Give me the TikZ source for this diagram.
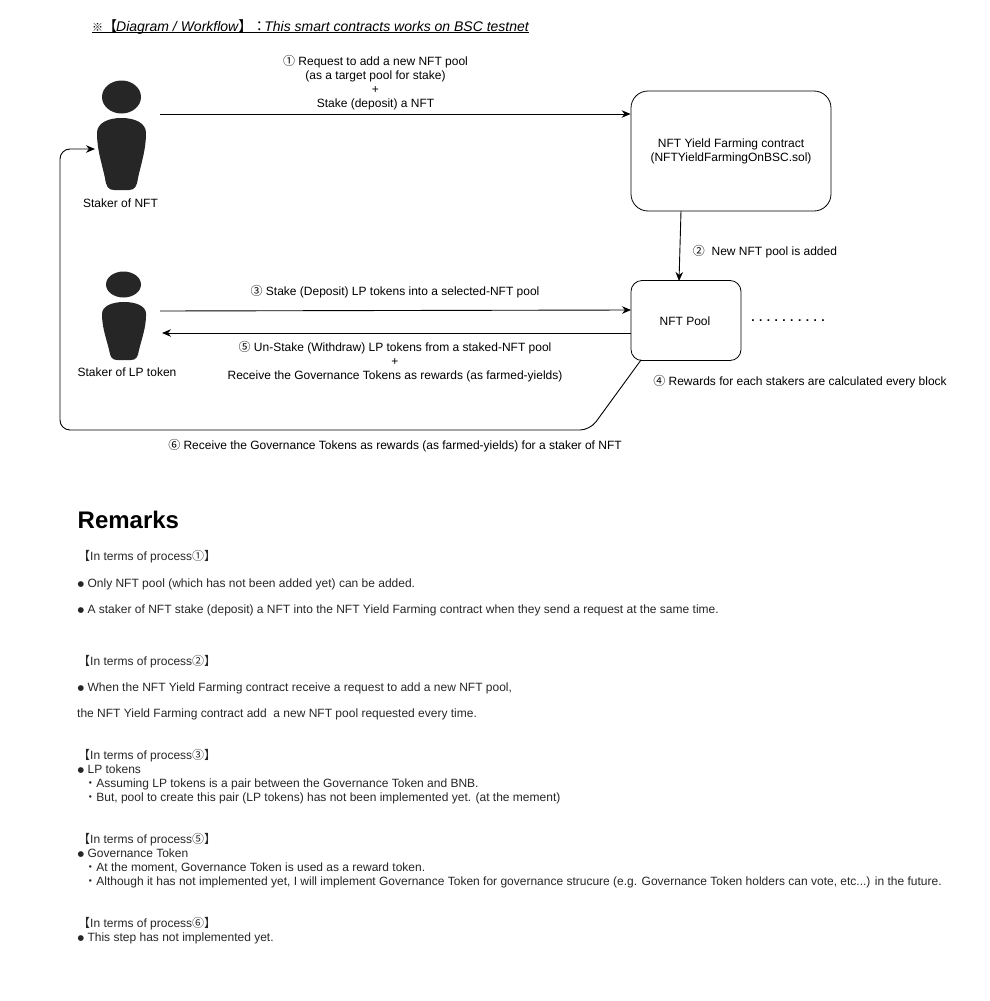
\documentclass[tikz,border=0pt]{standalone}
\usepackage{fontspec}
\setmainfont{Liberation Sans}
\newfontfamily\cjk{Noto Sans CJK JP}
\newfontfamily\symfont{DejaVu Sans}
\usetikzlibrary{arrows.meta,shapes.geometric}
\newcommand{\cn}[1]{{\cjk #1}}
\newcommand{\bul}{\raisebox{0.8pt}{\symfont\fontsize{7.5}{14}\selectfont ●}}
\tikzset{
  lbl/.style={inner sep=0pt,yshift=-0.8pt,align=center,font=\fontsize{12}{14}\selectfont},
  rem/.style={inner sep=0pt,yshift=-4.5pt,anchor=base west,font=\fontsize{12}{14}\selectfont,text=black!85},
  box/.style={draw,line width=0.8pt,inner sep=0pt},
  head/.style={ellipse,fill=black!85,inner sep=0pt},
  flow/.style={line width=0.9pt,-{Stealth[length=9pt,width=7.5pt]}}
}
% body of a person, 49 wide and 72 high before scaling
\newcommand{\personbody}{
  (24.5,0) .. controls (38,0) and (49,5) .. (49,15)
  .. controls (49,32) and (44,46) .. (41,60)
  .. controls (40,68) and (38,72) .. (32,72) -- (17,72)
  .. controls (11,72) and (9,68) .. (8,60)
  .. controls (5,46) and (0,32) .. (0,15)
  .. controls (0,5) and (11,0) .. (24.5,0) -- cycle}
\begin{document}
\begin{tikzpicture}[x=1pt,y=-1pt]
  \useasboundingbox (0,0) rectangle (990,1001);
  \node[inner sep=0pt,anchor=base west,font=\fontsize{14}{16}\selectfont\itshape] (title) at (92,31)
    {\underline{\smash{{\cjk\fontsize{11}{16}\selectfont ※}\cn{【}\kern-1pt Diagram / Workflow\cn{】：}\kern-2pt This smart contracts works on BSC testnet}}};

  % people
  \node[head,minimum width=39pt,minimum height=33pt] (headNFT) at (121.5,97) {};
  \fill[black!85,shift={(97,118)}] \personbody;
  \node[lbl] (stakerNFT) at (120.5,202) {Staker of NFT};
  \node[head,minimum width=35pt,minimum height=26pt] (headLP) at (123.5,284.5) {};
  \fill[black!85,shift={(102,302)},xscale=0.9,yscale=0.806] \personbody;
  \node[lbl] (stakerLP) at (127,371) {Staker of LP token};

  % contract and pool
  \node[box,rounded corners=17pt,minimum width=200pt,minimum height=120pt] (contract) at (731,151) {};
  \node[lbl] (contractname) at (731,151) {NFT Yield Farming contract\\(NFTYieldFarmingOnBSC.sol)};
  \node[box,rounded corners=11pt,minimum width=110pt,minimum height=80pt] (pool) at (686,320.5) {};
  \node[lbl] (poolname) at (685,320) {NFT Pool};
  \node[lbl,font=\fontsize{12}{14}\selectfont\bfseries] (dots) at (788,320) {. . . . . . . . . .};

  % free ends of the connectors
  \coordinate (nftout) at (160,114);
  \coordinate (contractin) at (contract.west |- nftout);
  \coordinate (contractout) at (681,211);
  \coordinate (poolin) at (679,281);
  \coordinate (lpout) at (160,311);
  \coordinate (poolleft) at (631,310);
  \coordinate (poolback) at (631,333);
  \coordinate (lpin) at (162,333);
  \coordinate (poolcorner) at (641,360);
  \coordinate (nftin) at (95,149);

  \draw[flow] (nftout) to (contractin);
  \draw[flow] (contractout) to (poolin);
  \draw[flow] (lpout) to (poolleft);
  \draw[flow] (poolback) to (lpin);
  \draw[flow,rounded corners=10pt] (poolcorner) -- (590,430) -- (60,430) -- (60,149) -- (nftin);

  % labels of the connectors
  \node[lbl] (stepone) at (375.5,82) {\cn{①} Request to add a new NFT pool\\(as a target pool for stake)\\+\\Stake (deposit) a NFT};
  \node[lbl] (steptwo) at (765,251) {\cn{②} \ New NFT pool is added};
  \node[lbl] (stepthree) at (395,291) {\cn{③} Stake (Deposit) LP tokens into a selected-NFT pool};
  \node[lbl] (stepfive) at (395,361) {\cn{⑤} Un-Stake (Withdraw) LP tokens from a staked-NFT pool\\+\\Receive the Governance Tokens as rewards (as farmed-yields)};
  \node[lbl] (stepfour) at (800,381) {\cn{④} Rewards for each stakers are calculated every block};
  \node[lbl] (stepsix) at (395,445) {\cn{⑥} Receive the Governance Tokens as rewards (as farmed-yields) for a staker of NFT};

  % remarks
  \node[inner sep=0pt,anchor=west,font=\fontsize{24}{28}\selectfont\bfseries] (remarks) at (77.5,520) {Remarks};
  \node[rem] (procone) at (78,556) {\cn{【}In terms of process\cn{①】}};
  \node[rem] (oneA) at (77.5,583) {\bul\ Only NFT pool (which has not been added yet) can be added.};
  \node[rem] (oneB) at (77.5,609) {\bul\ A staker of NFT stake (deposit) a NFT into the NFT Yield Farming contract when they send a request at the same time.};
  \node[rem] (proctwo) at (78,661) {\cn{【}In terms of process\cn{②】}};
  \node[rem] (twoA) at (77.5,687) {\bul\ When the NFT Yield Farming contract receive a request to add a new NFT pool,};
  \node[rem] (twoB) at (77,713) {the NFT Yield Farming contract add \ a new NFT pool requested every time.};
  \node[rem] (procthree) at (78,755) {\cn{【}In terms of process\cn{③】}};
  \node[rem] (threeA) at (77.5,769) {\bul\ LP tokens};
  \node[rem] (threeB) at (77.5,783) {\ \ \cn{・}Assuming LP tokens is a pair between the Governance Token and BNB.};
  \node[rem] (threeC) at (77.5,797) {\ \ \cn{・}But, pool to create this pair (LP tokens) has not been implemented yet. (at the mement)};
  \node[rem] (procfive) at (78,839) {\cn{【}In terms of process\cn{⑤】}};
  \node[rem] (fiveA) at (77.5,853) {\bul\ Governance Token};
  \node[rem] (fiveB) at (77.5,867) {\ \ \cn{・}At the moment, Governance Token is used as a reward token.};
  \node[rem] (fiveC) at (77.5,881) {\ \ \cn{・}Although it has not implemented yet, I will implement Governance Token for governance strucure (e.g. Governance Token holders can vote, etc...) in the future.};
  \node[rem] (procsix) at (78,923) {\cn{【}In terms of process\cn{⑥】}};
  \node[rem] (sixA) at (77.5,937) {\bul\ This step has not implemented yet.};
\end{tikzpicture}
\end{document}
